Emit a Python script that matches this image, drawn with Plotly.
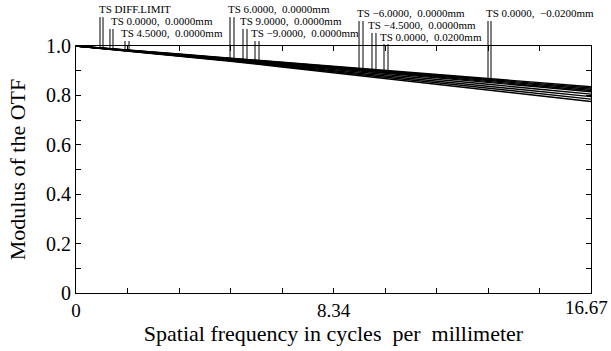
import numpy as np
import plotly.graph_objects as go

# Spatial frequency samples (cycles/mm)
freq = [0, 1.667, 3.334, 5.001, 6.668, 8.335, 10.002, 11.669, 13.336, 15.003, 16.67]

# MTF curves
mtf_curves = {
    "DIFF.LIMIT T": [1.0, 0.985, 0.968, 0.951, 0.934, 0.918, 0.901, 0.884, 0.868, 0.851, 0.835],
    "DIFF.LIMIT S": [1.0, 0.984, 0.967, 0.950, 0.933, 0.916, 0.899, 0.882, 0.864, 0.847, 0.830],
    "F2": [1.0, 0.984, 0.966, 0.949, 0.931, 0.914, 0.896, 0.878, 0.861, 0.843, 0.825],
    "F3": [1.0, 0.983, 0.965, 0.947, 0.929, 0.911, 0.893, 0.875, 0.857, 0.838, 0.820],
    "F4": [1.0, 0.983, 0.964, 0.946, 0.927, 0.909, 0.890, 0.871, 0.852, 0.834, 0.815],
    "F5": [1.0, 0.982, 0.963, 0.944, 0.924, 0.905, 0.885, 0.865, 0.845, 0.825, 0.805],
    "F6": [1.0, 0.981, 0.962, 0.942, 0.921, 0.900, 0.879, 0.858, 0.837, 0.816, 0.795],
    "F7": [1.0, 0.981, 0.961, 0.940, 0.918, 0.896, 0.874, 0.852, 0.830, 0.807, 0.785],
    "F8": [1.0, 0.980, 0.960, 0.938, 0.915, 0.892, 0.869, 0.846, 0.822, 0.798, 0.775],
}

# Field labels
label_texts = [
    "TS DIFF.LIMIT",
    "TS 0.0000,  0.0000mm",
    "TS 4.5000,  0.0000mm",
    "TS 6.0000,  0.0000mm",
    "TS 9.0000,  0.0000mm",
    "TS \u22129.0000,  0.0000mm",
    "TS \u22126.0000,  0.0000mm",
    "TS \u22124.5000,  0.0000mm",
    "TS 0.0000,  0.0200mm",
    "TS 0.0000,  \u22120.0200mm",
]
label_x = [0.74, 1.13, 1.45, 4.92, 5.31, 5.66, 9.09, 9.45, 9.84, 13.27]
label_y = [1.150, 1.101, 1.053, 1.150, 1.101, 1.053, 1.134, 1.085, 1.036, 1.134]
marker_x = [(0.777, 0.874), (1.10, 1.198), (1.586, 1.716),
            (4.985, 5.114), (5.406, 5.535), (5.794, 5.924),
            (9.161, 9.290), (9.581, 9.710), (9.970, 10.10),
            (13.336, 13.433)]
marker_top = [1.117, 1.069, 1.020, 1.117, 1.069, 1.020, 1.101, 1.053, 1.008, 1.101]

# Axis ticks
x_tickvals = [0, 1.667, 3.334, 5.001, 6.668, 8.34, 10.002, 11.669, 13.336, 15.003, 16.67]
x_ticktext = ["0", "", "", "", "", "8.34", "", "", "", "", ""]
x_end_label = "16.67"
x_end_value = 16.67
y_tickvals = [0, 0.1, 0.2, 0.3, 0.4, 0.5, 0.6, 0.7, 0.8, 0.9, 1.0]
y_ticktext = ["0", "", "0.2", "", "0.4", "", "0.6", "", "0.8", "", "1.0"]

FONT = "Liberation Serif, Times New Roman, serif"

fig = go.Figure()
for name, vals in mtf_curves.items():
    fig.add_trace(go.Scatter(x=freq, y=vals, mode="lines", name=name,
                             line=dict(color="black", width=1.4), showlegend=False))

ref_curve = mtf_curves["F3"]
shapes = []
for (xa, xb), top in zip(marker_x, marker_top):
    for xv in (xa, xb):
        bottom = float(np.interp(xv, freq, ref_curve))
        shapes.append(dict(type="line", xref="x", yref="paper", x0=xv, x1=xv,
                           y0=bottom, y1=top, line=dict(color="black", width=1)))

annotations = []
for t, xv, yv in zip(label_texts, label_x, label_y):
    annotations.append(dict(text=t, x=xv, y=yv, xref="x", yref="paper",
                            xanchor="left", yanchor="middle", showarrow=False,
                            font=dict(family=FONT, size=11, color="black"),
                            borderpad=0, borderwidth=0))
# end tick label of the x axis (kept inside the picture, as in the reference)
annotations.append(dict(text=x_end_label, x=x_end_value, y=0, xref="x", yref="paper",
                        xanchor="center", yanchor="top", xshift=-5, yshift=-4,
                        showarrow=False, borderpad=0, borderwidth=0,
                        font=dict(family=FONT, size=19, color="black")))

fig.update_layout(
    width=611, height=351,
    margin=dict(l=76, r=20, t=46, b=58, autoexpand=False),
    paper_bgcolor="white", plot_bgcolor="white",
    font=dict(family=FONT, color="black"),
    shapes=shapes, annotations=annotations,
    xaxis=dict(range=[0, 16.67], tickvals=x_tickvals, ticktext=x_ticktext,
               ticks="inside", ticklen=5, tickcolor="black", mirror="ticks",
               showline=True, linecolor="black", linewidth=1, showgrid=False,
               zeroline=False, tickfont=dict(family=FONT, size=19),
               ticklabeloverflow="allow", automargin=False,
               title=dict(text="Spatial frequency in cycles  per  millimeter",
                          font=dict(family=FONT, size=22), standoff=2)),
    yaxis=dict(range=[0, 1.0], tickvals=y_tickvals, ticktext=y_ticktext,
               ticks="inside", ticklen=5, tickcolor="black", mirror="ticks",
               showline=True, linecolor="black", linewidth=1, showgrid=False,
               zeroline=False, tickfont=dict(family=FONT, size=20),
               automargin=False,
               title=dict(text="Modulus of the OTF",
                          font=dict(family=FONT, size=22), standoff=14)),
)

fig.write_html("out.html")
